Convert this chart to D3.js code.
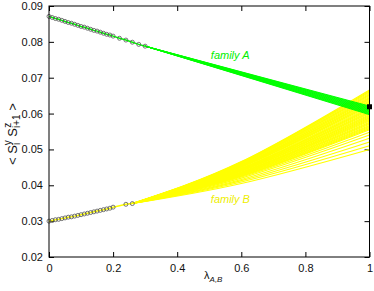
<!DOCTYPE html>
<html>
<head>
<meta charset="utf-8">
<script src="https://cdn.jsdelivr.net/npm/d3@7"></script>
<style>
  body { margin: 0; background: #fff; }
  text { font-family: "Liberation Sans", Arial, sans-serif; }
</style>
</head>
<body>
<div id="chart"></div>
<script>
// family A, computed points
var lamA = [0, 0.01, 0.02, 0.03, 0.04, 0.05, 0.06, 0.07, 0.08, 0.09, 0.10, 0.11, 0.12, 0.13,
            0.14, 0.15, 0.16, 0.17, 0.18, 0.19, 0.20, 0.22, 0.24, 0.26, 0.28, 0.30];
var valA = [0.0871, 0.0868, 0.0865, 0.0863, 0.0860, 0.0857, 0.0854, 0.0852, 0.0849, 0.0846,
            0.0843, 0.0841, 0.0838, 0.0835, 0.0832, 0.0830, 0.0827, 0.0824, 0.0821, 0.0819,
            0.0816, 0.0810, 0.0805, 0.0799, 0.0793, 0.0788];
// family B, computed points
var lamB = [0, 0.01, 0.02, 0.03, 0.04, 0.05, 0.06, 0.07, 0.08, 0.09, 0.10, 0.11, 0.12, 0.13,
            0.14, 0.15, 0.16, 0.17, 0.18, 0.19, 0.20, 0.24, 0.26];
var valB = [0.0300, 0.0302, 0.0304, 0.0305, 0.0307, 0.0309, 0.0311, 0.0312, 0.0314, 0.0316,
            0.0318, 0.0320, 0.0322, 0.0324, 0.0326, 0.0328, 0.0330, 0.0332, 0.0334, 0.0336,
            0.0339, 0.0347, 0.0349];

// extrapolation bundles (value at lambda = 1, and at lambda = 0.6 for family B)
var fanAEnd = [0.0597, 0.0599, 0.0601, 0.0603, 0.0605, 0.0607, 0.0609, 0.0611, 0.0613,
               0.0615, 0.0617, 0.0619, 0.0621];
var fanBMidLam = 0.6;
var fanBEnd = [0.0666, 0.0663, 0.0660, 0.0657, 0.0654, 0.0651, 0.0648, 0.0645, 0.0642, 0.0639,
               0.0636, 0.0633, 0.0630, 0.0627, 0.0624, 0.0621, 0.0618, 0.0615, 0.0612, 0.0609,
               0.0606, 0.0603, 0.0600, 0.0597, 0.0594, 0.0591, 0.0588, 0.0585, 0.0582, 0.0579,
               0.0576, 0.0573, 0.0570, 0.0567, 0.0564, 0.0561, 0.0558, 0.0555,
               0.0548, 0.0540, 0.0531, 0.0521, 0.0510, 0.0500];
var fanBMid = [0.0466, 0.0465, 0.0464, 0.0463, 0.0462, 0.0461, 0.0460, 0.0459, 0.0457, 0.0456,
               0.0455, 0.0454, 0.0453, 0.0452, 0.0451, 0.0450, 0.0448, 0.0447, 0.0446, 0.0445,
               0.0444, 0.0443, 0.0442, 0.0441, 0.0440, 0.0439, 0.0437, 0.0436, 0.0435, 0.0434,
               0.0433, 0.0432, 0.0431, 0.0430, 0.0429, 0.0427, 0.0426, 0.0425,
               0.0423, 0.0420, 0.0416, 0.0413, 0.0409, 0.0405];
var exactPoint = [1, 0.0619];

var xTicks = [0, 0.2, 0.4, 0.6, 0.8, 1];
var yTicks = [0.02, 0.03, 0.04, 0.05, 0.06, 0.07, 0.08, 0.09];

var W = 374, H = 291;
var margin = {top: 6, right: 4.5, bottom: 34, left: 49};
var width = W - margin.left - margin.right,
    height = H - margin.top - margin.bottom;

var svg = d3.select("#chart").append("svg")
  .attr("width", W).attr("height", H)
  .append("g")
  .attr("transform", "translate(" + margin.left + "," + margin.top + ")");

var x = d3.scaleLinear().domain([0, 1]).range([0, width]);
var y = d3.scaleLinear().domain([0.02, 0.09]).range([height, 0]);

var fmtX = function(d) { return d === 0 || d === 1 ? String(d) : d3.format(".1f")(d); };

// axes, ticks pointing inward
svg.append("g").call(d3.axisLeft(y).tickValues(yTicks).tickSize(-5).tickSizeOuter(0).tickPadding(6).tickFormat(d3.format(".2f")));
svg.append("g").attr("transform", "translate(" + width + ",0)")
  .call(d3.axisRight(y).tickValues(yTicks).tickSize(-5).tickSizeOuter(0).tickFormat(""));
svg.append("g").attr("transform", "translate(0," + height + ")")
  .call(d3.axisBottom(x).tickValues(xTicks).tickSize(-5).tickSizeOuter(0).tickPadding(7).tickFormat(fmtX));
svg.append("g")
  .call(d3.axisTop(x).tickValues(xTicks).tickSize(-5).tickSizeOuter(0).tickFormat(""));

svg.selectAll(".domain").remove();
svg.selectAll(".tick line").attr("stroke", "#000");
svg.selectAll(".tick text").style("font-size", "11px").style("font-family", "Liberation Sans, Arial, sans-serif").attr("fill", "#111");

var line = d3.line().x(function(d) { return x(d[0]); }).y(function(d) { return y(d[1]); });
var curve = d3.line().x(function(d) { return x(d[0]); }).y(function(d) { return y(d[1]); }).curve(d3.curveNatural);

// family B bundle (drawn under A)
var lastB = [lamB[lamB.length - 1], valB[valB.length - 1]];
svg.selectAll(".fanB").data(fanBEnd).enter().append("path")
  .attr("d", function(e, i) { return curve([lastB, [fanBMidLam, fanBMid[i]], [1, e]]); })
  .attr("fill", "none").attr("stroke", "#ffff00").attr("stroke-width", 1.1);
svg.append("path").attr("d", line(lamB.map(function(l, i) { return [l, valB[i]]; })))
  .attr("fill", "none").attr("stroke", "#ffff00").attr("stroke-width", 1.5);

// family A bundle
var lastA = [lamA[lamA.length - 1], valA[valA.length - 1]];
svg.selectAll(".fanA").data(fanAEnd).enter().append("path")
  .attr("d", function(e) { return line([lastA, [1, e]]); })
  .attr("fill", "none").attr("stroke", "#00ff00").attr("stroke-width", 1);
svg.append("path").attr("d", line(lamA.map(function(l, i) { return [l, valA[i]]; })))
  .attr("fill", "none").attr("stroke", "#00ff00").attr("stroke-width", 1.5);

// computed points
function dots(lams, vals) {
  svg.append("g").selectAll("circle").data(lams).enter().append("circle")
    .attr("cx", function(d) { return x(d); })
    .attr("cy", function(d, i) { return y(vals[i]); })
    .attr("r", 2)
    .attr("fill", "none").attr("stroke", "#555").attr("stroke-width", 0.8);
}
dots(lamA, valA);
dots(lamB, valB);

// frame
svg.append("rect").attr("width", width).attr("height", height)
  .attr("fill", "none").attr("stroke", "#000").attr("stroke-width", 1);

svg.append("rect")
  .attr("x", x(exactPoint[0]) - 2.5).attr("y", y(exactPoint[1]) - 2.5)
  .attr("width", 5).attr("height", 5).attr("fill", "#000");

// labels
svg.append("text").attr("x", x(0.505)).attr("y", y(0.0751))
  .style("font-size", "11px").style("font-style", "italic").attr("fill", "#00ee00")
  .text("family A");
svg.append("text").attr("x", x(0.505)).attr("y", y(0.0351))
  .style("font-size", "11px").style("font-style", "italic").attr("fill", "#eeee00")
  .text("family B");

var yl = d3.select("svg").append("text")
  .attr("transform", "translate(17,134) rotate(-90)")
  .attr("text-anchor", "middle")
  .style("font-size", "13px").attr("fill", "#111");
yl.append("tspan").text("< S");
yl.append("tspan").attr("dy", 3).style("font-size", "10px").text("i");
yl.append("tspan").attr("dx", -2.5).attr("dy", -9).style("font-size", "10px").text("y");
yl.append("tspan").attr("dy", 6).text(" S");
yl.append("tspan").attr("dy", 3).style("font-size", "10px").text("i+1");
yl.append("tspan").attr("dx", -13.5).attr("dy", -9).style("font-size", "10px").text("z");
yl.append("tspan").attr("dx", 8.5).attr("dy", 6).text(" >");

var xl = d3.select("svg").append("text")
  .attr("x", margin.left + width / 2 + 4).attr("y", 279)
  .attr("text-anchor", "middle")
  .style("font-size", "11px").attr("fill", "#111");
xl.append("tspan").text("λ");
xl.append("tspan").attr("dy", 3).style("font-size", "8px").style("font-style", "italic").text("A,B");
</script>
</body>
</html>
